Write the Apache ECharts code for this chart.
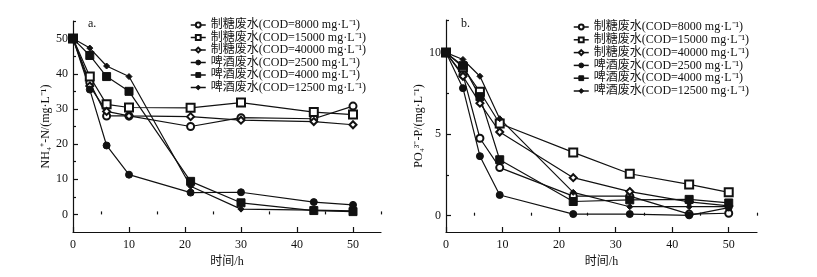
<!DOCTYPE html>
<html>
<head>
<meta charset="utf-8">
<script src="https://cdn.jsdelivr.net/npm/echarts@6/dist/echarts.min.js"></script>
<style>
  html, body { margin: 0; padding: 0; background: #fff; }
  #chart { width: 817px; height: 277px; }
</style>
</head>
<body>
<div id="chart"></div>
<script>
// sampling times (h)
const timesA = [0, 3, 6, 10, 21, 30, 43, 50];
const timesB = [0, 3, 6, 9.5, 22.5, 32.5, 43, 50];

const seriesNames = [
  "制糖废水(COD=8000 mg·L⁻¹)",
  "制糖废水(COD=15000 mg·L⁻¹)",
  "制糖废水(COD=40000 mg·L⁻¹)",
  "啤酒废水(COD=2500 mg·L⁻¹)",
  "啤酒废水(COD=4000 mg·L⁻¹)",
  "啤酒废水(COD=12500 mg·L⁻¹)",
];

// a. NH4+-N
const nh4Sugar8000 = [50, 37.5, 28, 28, 25, 27.5, 27.2, 30.8];
const nh4Sugar15000 = [50, 39.2, 31.3, 30.4, 30.3, 31.8, 29.1, 28.4];
const nh4Sugar40000 = [50, 36.5, 29.3, 28, 27.8, 26.8, 26.4, 25.5];
const nh4Beer2500 = [50, 35.5, 19.6, 11.3, 6.2, 6.3, 3.5, 2.7];
const nh4Beer4000 = [50, 45.2, 39.2, 35, 9.4, 3.3, 1.1, 0.8];
const nh4Beer12500 = [50, 47.3, 42.2, 39.2, 8.0, 1.5, 1.2, 1.0];

// b. PO4 3- -P
const po4Sugar8000 = [10, 8.65, 4.75, 2.95, 1.2, 1.2, 0.1, 0.15];
const po4Sugar15000 = [10, 9.1, 7.6, 5.65, 3.88, 2.57, 1.92, 1.43];
const po4Sugar40000 = [10, 8.55, 6.9, 5.13, 2.33, 1.48, 0.85, 0.6];
const po4Beer2500 = [10, 7.82, 3.65, 1.27, 0.1, 0.1, 0.02, 0.5];
const po4Beer4000 = [10, 9.2, 7.3, 3.43, 0.87, 0.97, 1.0, 0.78];
const po4Beer12500 = [10, 9.58, 8.55, 5.95, 1.43, 0.55, 0.55, 0.55];

// ticks
const xMajorTicks = [0, 10, 20, 30, 40, 50];
const xMinorTicks = [5, 15, 25, 35, 45, 55];
const yMajorTicksA = [0, 10, 20, 30, 40, 50];
const yMinorTicksA = [5, 15, 25, 35, 45, 55];
const yMajorTicksB = [0, 5, 10];
const yMinorTicksB = [2.5, 7.5, 12];

const FONT = "'Liberation Serif', 'Noto Sans CJK SC', serif";
const INK = "#111";

const symbols = [
  { symbol: "emptyCircle", size: 7 },
  { symbol: "emptyRect", size: 8 },
  { symbol: "emptyDiamond", size: 7 },
  { symbol: "circle", size: 7 },
  { symbol: "rect", size: 8 },
  { symbol: "diamond", size: 6 },
];

function pairs(xs, ys) {
  return xs.map((x, i) => [x, ys[i]]);
}

function lineSeries(i, ys, xs, gridIdx) {
  return {
    name: seriesNames[i],
    type: "line",
    xAxisIndex: gridIdx,
    yAxisIndex: gridIdx,
    data: pairs(xs, ys),
    symbol: symbols[i].symbol,
    symbolSize: symbols[i].size,
    showAllSymbol: true,
    lineStyle: { color: INK, width: 1.2 },
    itemStyle: { color: INK, borderColor: INK, borderWidth: 1 },
    emphasis: { disabled: true },
    animation: false,
    z: 3,
  };
}

function mainX(gridIdx) {
  return {
    type: "value", gridIndex: gridIdx, min: 0, max: 55,
    axisLine: { show: true, onZero: false, lineStyle: { color: INK, width: 1.2 } },
    axisTick: { show: true, inside: true, length: 5, customValues: xMajorTicks, lineStyle: { color: INK, width: 1.2 } },
    axisLabel: { customValues: xMajorTicks, color: INK, fontFamily: FONT, fontSize: 12, margin: 7 },
    splitLine: { show: false },
    name: "时间/h", nameLocation: "middle", nameGap: 23,
    nameTextStyle: { color: INK, fontFamily: FONT, fontSize: 12 },
  };
}

function minorX(gridIdx) {
  return {
    type: "value", gridIndex: gridIdx, min: 0, max: 55,
    axisLine: { show: false },
    axisTick: { show: true, inside: true, length: 3, customValues: xMinorTicks, lineStyle: { color: INK, width: 1.2 } },
    axisLabel: { show: false },
    splitLine: { show: false },
  };
}

function mainY(gridIdx, min, max, major, name, gap) {
  return {
    type: "value", gridIndex: gridIdx, min: min, max: max,
    axisLine: { show: true, onZero: false, lineStyle: { color: INK, width: 1.2 } },
    axisTick: { show: true, inside: true, length: 5, customValues: major, lineStyle: { color: INK, width: 1.2 } },
    axisLabel: { customValues: major, color: INK, fontFamily: FONT, fontSize: 12, margin: 5 },
    splitLine: { show: false },
    name: name, nameLocation: "middle", nameGap: gap, nameRotate: 90,
    nameTextStyle: { color: INK, fontFamily: FONT, fontSize: 12 },
  };
}

function minorY(gridIdx, min, max, minor) {
  return {
    type: "value", gridIndex: gridIdx, min: min, max: max,
    axisLine: { show: false },
    axisTick: { show: true, inside: true, length: 3, customValues: minor, lineStyle: { color: INK, width: 1.2 } },
    axisLabel: { show: false },
    splitLine: { show: false },
  };
}

function legendAt(left, top, gap) {
  return {
    left: left, top: top, orient: "vertical",
    data: seriesNames,
    itemWidth: 15, itemHeight: 6, itemGap: gap,
    selectedMode: false,
    itemStyle: { borderWidth: 1 },
    lineStyle: { width: 1.5 },
    textStyle: { color: INK, fontFamily: FONT, fontSize: 12, lineHeight: 12, padding: 0 },
  };
}

const gridA = { left: 73, top: 21, width: 308, height: 211 };
const gridB = { left: 446, top: 20, width: 311, height: 212 };

const chart = echarts.init(document.getElementById("chart"), null, { renderer: "canvas" });
chart.setOption({
  backgroundColor: "#fff",
  animation: false,
  grid: [gridA, gridB, gridA, gridB],
  xAxis: [mainX(0), mainX(1), minorX(2), minorX(3)],
  yAxis: [
    mainY(0, -5, 55, yMajorTicksA, "NH₄⁺-N/(mg·L⁻¹)", 21),
    mainY(1, -1, 12, yMajorTicksB, "PO₄³⁻-P/(mg·L⁻¹)", 13),
    minorY(2, -5, 55, yMinorTicksA),
    minorY(3, -1, 12, yMinorTicksB),
  ],
  legend: [legendAt(185, 14, 0.5), legendAt(568, 16, 0.8)],
  graphic: [
    { type: "text", left: 88, top: 18, style: { text: "a.", font: "12px " + FONT, fill: INK } },
    { type: "text", left: 461, top: 18, style: { text: "b.", font: "12px " + FONT, fill: INK } },
  ],
  series: [
    lineSeries(0, nh4Sugar8000, timesA, 0),
    lineSeries(1, nh4Sugar15000, timesA, 0),
    lineSeries(2, nh4Sugar40000, timesA, 0),
    lineSeries(3, nh4Beer2500, timesA, 0),
    lineSeries(4, nh4Beer4000, timesA, 0),
    lineSeries(5, nh4Beer12500, timesA, 0),
    lineSeries(0, po4Sugar8000, timesB, 1),
    lineSeries(1, po4Sugar15000, timesB, 1),
    lineSeries(2, po4Sugar40000, timesB, 1),
    lineSeries(3, po4Beer2500, timesB, 1),
    lineSeries(4, po4Beer4000, timesB, 1),
    lineSeries(5, po4Beer12500, timesB, 1),
  ],
});
</script>
</body>
</html>
